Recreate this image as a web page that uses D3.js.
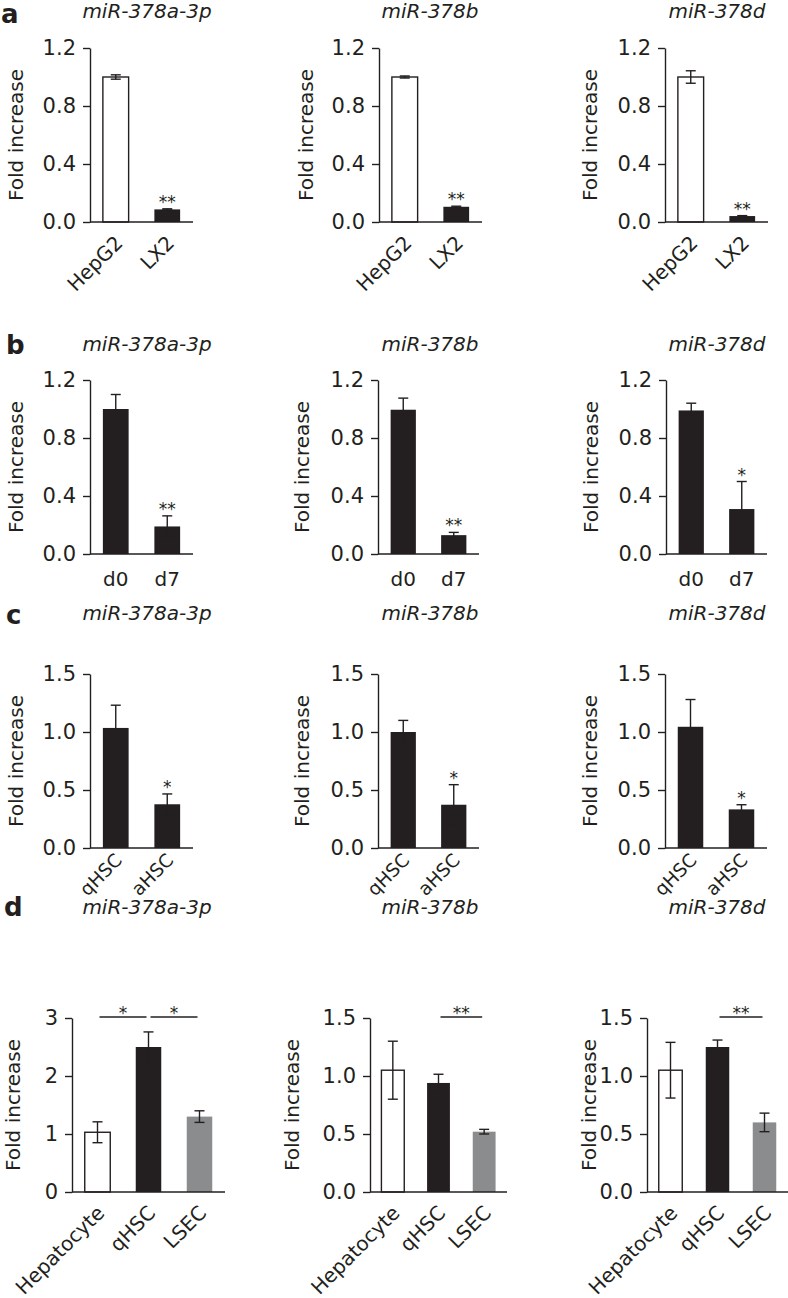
<!DOCTYPE html>
<html>
<head>
<meta charset="utf-8">
<script src="https://cdn.jsdelivr.net/npm/d3@7"></script>
<style>
  html, body { margin: 0; padding: 0; background: #fff; }
  svg { display: block; }
  text { font-family: "DejaVu Sans", "Liberation Sans", Arial, sans-serif; fill: #231f20; }
  .tick text { font-size: 21px; }
  .title { font-size: 20px; font-style: italic; }
  .ylab { font-size: 20px; }
  .xlab { font-size: 20px; }
  .star { font-size: 17px; }
  .letter { font-size: 26px; font-weight: bold; }
</style>
</head>
<body>
<svg id="chart" width="788" height="1298"></svg>
<script>
// ── data ─────────────────────────────────────────────
const titles = ["miR-378a-3p", "miR-378b", "miR-378d"];
const letters = ["a", "b", "c", "d"];

// row a: HepG2 vs LX2
const catsA = ["HepG2", "LX2"];
const meanA = [[1.00, 0.087], [1.00, 0.105], [1.00, 0.041]];
const semA  = [[0.015, 0.004], [0.007, 0.004], [0.043, 0.003]];
const starA = [[null, "**"], [null, "**"], [null, "**"]];

// row b: d0 vs d7
const catsB = ["d0", "d7"];
const meanB = [[1.00, 0.19], [0.995, 0.13], [0.99, 0.31]];
const semB  = [[0.10, 0.073], [0.08, 0.019], [0.05, 0.19]];
const starB = [[null, "**"], [null, "**"], [null, "*"]];

// row c: qHSC vs aHSC
const catsC = ["qHSC", "aHSC"];
const meanC = [[1.035, 0.377], [1.00, 0.373], [1.045, 0.333]];
const semC  = [[0.196, 0.089], [0.10, 0.173], [0.235, 0.04]];
const starC = [[null, "*"], [null, "*"], [null, "*"]];

// row d: Hepatocyte / qHSC / LSEC
const catsD = ["Hepatocyte", "qHSC", "LSEC"];
const meanD = [[1.03, 2.50, 1.30], [1.05, 0.94, 0.52], [1.05, 1.25, 0.60]];
const semD  = [[0.18, 0.26, 0.10], [0.25, 0.075, 0.02], [0.24, 0.06, 0.08]];
const sigD  = [[[0, 1, "*"], [1, 2, "*"]], [[1, 2, "**"]], [[1, 2, "**"]]];

const ticksAB = [0, 0.4, 0.8, 1.2];
const ticksC  = [0, 0.5, 1.0, 1.5];
const ticksD  = [[0, 1, 2, 3], [0, 0.5, 1.0, 1.5], [0, 0.5, 1.0, 1.5]];

// ── layout ───────────────────────────────────────────
const BLACK = "#231f20";
const GRAY  = "#8b8c8e";
const PLOT_H = 174;

// xLab: offset of the x labels below the axis, xFont: their font size
const rows = [
  { top: 48,   titleY: 18,  letterY: 23,  axisX: [90, 379, 665], plotW: [103, 103, 103], ylabDx: [-74, -73, -75],
    cats: catsA, means: meanA, sems: semA, stars: starA, fills: ["#fff", BLACK],
    ticks: [ticksAB, ticksAB, ticksAB], fmt: ".1f", xRot: true, xLab: 12, xFont: 20 },
  { top: 380,  titleY: 351, letterY: 354, axisX: [90, 378, 666], plotW: [103, 101, 101], ylabDx: [-74, -76, -75],
    cats: catsB, means: meanB, sems: semB, stars: starB, fills: [BLACK, BLACK],
    ticks: [ticksAB, ticksAB, ticksAB], fmt: ".1f", xRot: false, xLab: 32, xFont: 20 },
  { top: 674,  titleY: 620, letterY: 624, axisX: [90, 378, 665], plotW: [103, 101, 102], ylabDx: [-74, -76, -75],
    cats: catsC, means: meanC, sems: semC, stars: starC, fills: [BLACK, BLACK],
    ticks: [ticksC, ticksC, ticksC], fmt: ".1f", xRot: true, xLab: 4, xFont: 18.5 },
  { top: 1018, titleY: 914, letterY: 916, axisX: [72, 370, 647], plotW: [153, 137, 141], ylabDx: [-59, -78, -58],
    cats: catsD, means: meanD, sems: semD, sig: sigD, fills: ["#fff", BLACK, GRAY],
    ticks: ticksD, fmtD: ["d", ".1f", ".1f"], xRot: true, xLab: 12, xFont: 20 }
];
const titleX = [147, 430, 717];
const letterX = [1, 6, 6, 4];

const svg = d3.select("#chart");

rows.forEach((row, ri) => {
  svg.append("text").attr("class", "letter")
    .attr("x", letterX[ri]).attr("y", row.letterY).text(letters[ri]);

  for (let pi = 0; pi < 3; pi++) {
    const ax = row.axisX[pi];
    const w  = row.plotW[pi];
    const bottom = row.top + PLOT_H;
    const ticks = row.ticks[pi];
    const fmt = row.fmtD ? row.fmtD[pi] : row.fmt;

    const y = d3.scaleLinear().domain([0, d3.max(ticks)]).range([bottom, row.top]);
    const x = d3.scaleBand().domain(row.cats).range([ax, ax + w])
      .paddingInner(0.5).paddingOuter(0.25);

    const g = svg.append("g");

    // title
    g.append("text").attr("class", "title")
      .attr("x", titleX[pi]).attr("y", row.titleY)
      .attr("text-anchor", "middle").text(titles[pi]);

    // y axis
    const yAxis = d3.axisLeft(y).tickValues(ticks).tickFormat(d3.format(fmt))
      .tickSize(7).tickSizeOuter(0).tickPadding(7);
    const ya = g.append("g").attr("transform", `translate(${ax},0)`).call(yAxis);
    ya.selectAll("path, line").attr("stroke", BLACK).attr("stroke-width", 1.4);
    ya.selectAll("text").attr("fill", BLACK);

    // y label
    g.append("text").attr("class", "ylab")
      .attr("transform", `translate(${ax + row.ylabDx[pi]},${(row.top + bottom) / 2}) rotate(-90)`)
      .attr("text-anchor", "middle").attr("dy", "0.35em").text("Fold increase");

    // bars
    const m = row.means[pi], s = row.sems[pi];
    row.cats.forEach((c, i) => {
      const fill = row.fills[i];
      g.append("rect")
        .attr("x", x(c)).attr("width", x.bandwidth())
        .attr("y", y(m[i])).attr("height", bottom - y(m[i]))
        .attr("fill", fill)
        .attr("stroke", fill === "#fff" ? BLACK : "none")
        .attr("stroke-width", 1.4);
      // error bar
      const cx = x(c) + x.bandwidth() / 2;
      const hi = y(m[i] + s[i]), lo = y(m[i] - s[i]);
      const capW = 5;
      const eb = g.append("g").attr("stroke", BLACK).attr("stroke-width", 1.4);
      eb.append("line").attr("x1", cx).attr("x2", cx).attr("y1", hi).attr("y2", lo);
      eb.append("line").attr("x1", cx - capW).attr("x2", cx + capW).attr("y1", hi).attr("y2", hi);
      eb.append("line").attr("x1", cx - capW).attr("x2", cx + capW).attr("y1", lo).attr("y2", lo);

      // stars above bars
      if (row.stars && row.stars[pi][i]) {
        g.append("text").attr("class", "star")
          .attr("x", cx).attr("y", hi - 1)
          .attr("text-anchor", "middle").text(row.stars[pi][i]);
      }

      // x labels
      if (row.xRot) {
        g.append("text").attr("class", "xlab")
          .style("font-size", row.xFont + "px")
          .attr("transform", `translate(${cx - 2},${bottom + row.xLab}) rotate(-45)`)
          .attr("text-anchor", "end").attr("dy", "0.72em").text(c);
      } else {
        g.append("text").attr("class", "xlab")
          .attr("x", cx).attr("y", bottom + row.xLab)
          .attr("text-anchor", "middle").text(c);
      }
    });

    // x baseline
    g.append("line").attr("x1", ax).attr("x2", ax + w)
      .attr("y1", bottom).attr("y2", bottom)
      .attr("stroke", BLACK).attr("stroke-width", 1.4);

    // significance brackets
    if (row.sig) {
      row.sig[pi].forEach(([a, b, lab]) => {
        const x1 = x(row.cats[a]) + x.bandwidth() / 2 + 2;
        const x2 = x(row.cats[b]) + x.bandwidth() / 2 - 2;
        const ly = row.top - 1;
        g.append("line").attr("x1", x1).attr("x2", x2).attr("y1", ly).attr("y2", ly)
          .attr("stroke", BLACK).attr("stroke-width", 1.4);
        g.append("text").attr("class", "star")
          .attr("x", (x1 + x2) / 2).attr("y", ly + 2)
          .attr("text-anchor", "middle").text(lab);
      });
    }
  }
});
</script>
</body>
</html>
